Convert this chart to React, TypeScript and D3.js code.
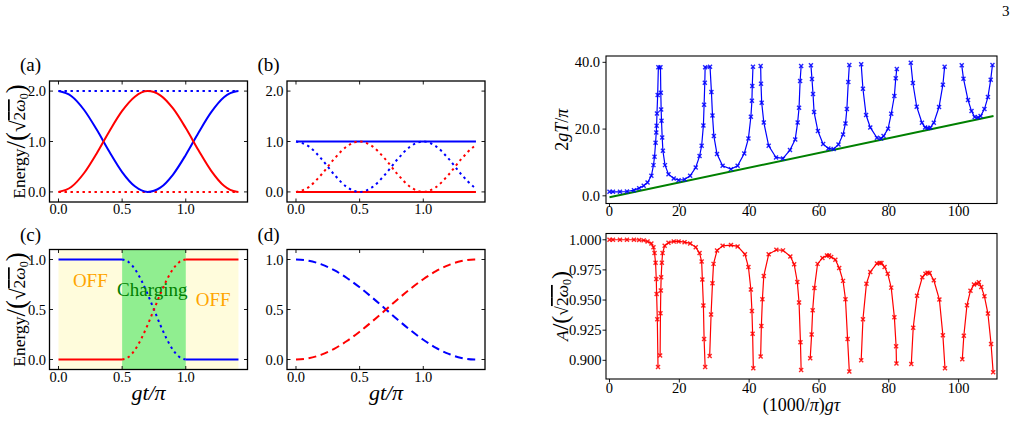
import React from 'react';
import * as d3 from 'd3';

const FONT = '"Liberation Serif", "Times New Roman", serif';

// gt/pi sample points for panels (a), (b), (d)
const tGrid = [0, 0.1, 0.2, 0.3, 0.4, 0.5, 0.6, 0.7, 0.8, 0.9, 1.0, 1.1, 1.2, 1.3, 1.4, 1.414];
const tRange: [number, number] = [0, 1.414];

// (a)
const aBlue = [2.0, 1.903, 1.63, 1.236, 0.795, 0.394, 0.111, 0.0, 0.084, 0.345, 0.734, 1.175, 1.582, 1.878, 1.997, 2.0];
const aRed = [0.0, 0.097, 0.37, 0.764, 1.205, 1.606, 1.889, 2.0, 1.916, 1.655, 1.266, 0.825, 0.418, 0.122, 0.003, 0.0];
const aBlueLevel = 2.0;
const aRedLevel = 0.0;

// (b)
const bBlueLevel = 1.0;
const bRedLevel = 0.0;
const bBlue = [1, 0.9045, 0.6545, 0.3455, 0.0955, 0, 0.0955, 0.3455, 0.6545, 0.9045, 1, 0.9045, 0.6545, 0.3455, 0.0955, 0.0709];
const bRed = [0, 0.0955, 0.3455, 0.6545, 0.9045, 1, 0.9045, 0.6545, 0.3455, 0.0955, 0, 0.0955, 0.3455, 0.6545, 0.9045, 0.9291];

// (c) charger switched on between 0.5 and 1.0
const cOn: [number, number] = [0.5, 1.0];
const cGrid = [0.5, 0.55, 0.6, 0.65, 0.7, 0.75, 0.8, 0.85, 0.9, 0.95, 1.0];
const cBlue = [1, 0.9755, 0.9045, 0.7939, 0.6545, 0.5, 0.3455, 0.2061, 0.0955, 0.0245, 0];
const cRed = [0, 0.0245, 0.0955, 0.2061, 0.3455, 0.5, 0.6545, 0.7939, 0.9045, 0.9755, 1];
const cBlueBefore = 1.0, cBlueAfter = 0.0;
const cRedBefore = 0.0, cRedAfter = 1.0;

// (d)
const dBlue = [1, 0.9877, 0.9515, 0.8931, 0.8152, 0.722, 0.618, 0.5079, 0.3975, 0.2922, 0.1971, 0.117, 0.0556, 0.016, 0.0002, 0];
const dRed = [0, 0.0123, 0.0485, 0.1069, 0.1848, 0.278, 0.382, 0.4921, 0.6025, 0.7078, 0.8029, 0.883, 0.9444, 0.984, 0.9998, 1];

// charging period 2gT/pi vs (1000/pi) g tau, split where it leaves the plot
const periodSegments: [number, number][][] = [
  [[0, 1.2], [1, 1.2], [3, 1.2], [5, 1.3], [7, 1.7], [8.5, 2.3], [9.8, 3.0], [10.9, 4.0], [12, 6.0], [12.6, 9.2],
   [12.9, 11.7], [13.2, 15.9], [13.4, 19.0], [13.5, 21.0], [13.6, 24.7], [13.8, 30.2], [14.0, 38.5], [14.6, 38.5],
   [14.7, 30.9], [14.8, 25.9], [14.9, 22.5], [15.1, 17.5], [15.3, 13.5], [15.9, 9.2], [16.9, 6.5], [18.4, 5.2],
   [19.8, 4.7], [21.5, 4.9], [23.1, 6.0], [24.7, 8.5], [25.8, 11.9], [26.4, 15.0], [26.9, 21.1], [27.1, 27.3],
   [27.3, 33.9], [27.4, 38.5], [28.8, 38.7], [29.2, 31.1], [29.5, 24.1], [29.9, 17.9], [30.8, 12.5], [32.4, 9.0],
   [34.8, 8.0], [36.7, 9.0], [38.6, 12.7], [39.8, 17.2], [40.5, 23.7], [40.8, 28.5], [40.9, 32.9], [41.1, 38.7]],
  [[43.3, 38.9], [43.4, 33.6], [43.6, 27.9], [44.2, 22.0], [45.6, 15.0], [47.7, 11.5], [49.7, 11.2], [51.7, 13.7],
   [53.2, 16.9], [53.9, 22.0], [54.3, 26.4], [54.6, 34.4], [54.9, 38.9]],
  [[57.7, 39.1], [58.0, 35.0], [58.3, 30.5], [58.6, 25.1], [59.7, 19.4], [61.2, 15.5], [62.7, 14.2], [64.2, 14.0],
   [65.6, 15.4], [66.9, 18.4], [67.6, 21.7], [68.0, 26.0], [68.4, 34.1], [68.7, 39.2]],
  [[72.1, 39.4], [72.6, 32.1], [73.5, 24.2], [74.7, 20.5], [76.6, 17.4], [77.8, 17.2], [78.5, 17.9], [79.8, 20.1],
   [80.7, 24.6], [81.6, 29.9], [82.0, 35.2], [82.3, 38.0]],
  [[86.3, 39.9], [86.9, 33.8], [88.0, 26.7], [89.5, 21.9], [90.4, 20.5], [91.2, 20.3], [91.9, 20.4], [92.9, 21.9],
   [94.4, 26.6], [95.5, 33.3], [96.0, 38.7]],
  [[100.9, 39.1], [101.4, 35.1], [102.7, 28.7], [103.7, 25.4], [104.6, 23.6], [105.6, 23.5], [106.3, 23.9],
   [107.4, 26.0], [108.4, 29.6], [109.2, 34.8], [109.7, 39.2]],
];
const boundLine: [number, number][] = [[0, -0.4], [110, 23.9]];

// amplitude A/(sqrt2 w0)
const ampSegments: [number, number][][] = [
  [[0, 1.0], [1, 1.0], [3, 1.0], [5, 1.0], [7, 1.0], [8.5, 0.9998], [9.8, 0.9995], [10.9, 0.9986], [12, 0.997],
   [12.6, 0.9937], [12.9, 0.989], [13.2, 0.981], [13.4, 0.9675], [13.5, 0.955], [13.7, 0.934], [13.9, 0.8945]],
  [[14.5, 0.904], [14.6, 0.939], [14.7, 0.958], [14.8, 0.969], [15.0, 0.981], [15.2, 0.989], [15.8, 0.995],
   [16.9, 0.9975], [18.4, 0.9986], [19.8, 0.9986], [21.5, 0.998], [23.1, 0.997], [24.7, 0.9937], [25.8, 0.989],
   [26.4, 0.982], [26.6, 0.967], [26.9, 0.9455], [27.1, 0.9176], [27.4, 0.8945]],
  [[28.7, 0.9036], [29.1, 0.938], [29.5, 0.964], [29.8, 0.98], [30.8, 0.991], [32.4, 0.995], [34.8, 0.9956],
   [36.7, 0.9945], [38.8, 0.988], [39.8, 0.9774], [40.5, 0.9587], [40.8, 0.941], [41.0, 0.922], [41.2, 0.8934]],
  [[43.3, 0.9031], [43.5, 0.9284], [43.8, 0.9507], [44.2, 0.97], [45.6, 0.9879], [47.8, 0.9917], [49.7, 0.9912],
   [51.8, 0.9862], [52.9, 0.9796], [53.8, 0.965], [54.3, 0.948], [54.7, 0.915], [54.9, 0.892]],
  [[57.5, 0.9017], [57.9, 0.9215], [58.2, 0.9416], [58.7, 0.96], [59.6, 0.98], [61.0, 0.9849], [62.3, 0.987],
   [62.9, 0.987], [63.5, 0.9857], [64.7, 0.9835], [65.8, 0.9766], [66.9, 0.9659], [67.6, 0.9507], [68.2, 0.9176],
   [68.7, 0.8907]],
  [[72.1, 0.9], [72.6, 0.934], [73.6, 0.9636], [74.7, 0.9733], [76.6, 0.9804], [77.4, 0.9807], [77.9, 0.9807],
   [78.8, 0.9774], [79.7, 0.9719], [80.7, 0.9603], [81.6, 0.9358], [82.1, 0.9116], [82.2, 0.8973]],
  [[86.45, 0.8969], [87.0, 0.927], [88.1, 0.9535], [89.6, 0.9689], [90.5, 0.9719], [91.1, 0.9727], [91.7, 0.9725],
   [92.9, 0.9664], [94.5, 0.9504], [95.5, 0.9207], [96.1, 0.8934]],
  [[101.06, 0.9008], [101.5, 0.9204], [102.4, 0.9457], [103.4, 0.9578], [104.4, 0.9628], [105.3, 0.9636],
   [105.8, 0.9647], [106.5, 0.9609], [107.4, 0.9531], [108.4, 0.9388], [109.3, 0.9135], [109.9, 0.89]],
];

const energyTicksX = [0, 0.5, 1.0];
const energyTicksTop = [0, 1, 2];
const energyTicksBottom = [0, 0.5, 1];
const tauTicks = [0, 20, 40, 60, 80, 100];
const periodTicks = [0, 20, 40];
const ampTicks = [0.9, 0.925, 0.95, 0.975, 1.0];

const BLUE = '#0000ff';
const RED = '#ff0000';
const DOT = '2.4,3.6';
const DASH = '8,4.6';

type Scale = d3.ScaleLinear<number, number>;
type Box = { x: number; y: number; w: number; h: number };

interface PanelProps {
  box: Box;
  xDomain: [number, number];
  yDomain: [number, number];
  xTicks: number[];
  yTicks: number[];
  xFormat: (v: number) => string;
  yFormat: (v: number) => string;
  inward: boolean;
  xGap: number;
  yGap: number;
  frame: number;
  children: (x: Scale, y: Scale) => React.ReactNode;
}

function Panel(p: PanelProps) {
  const { box } = p;
  const x = d3.scaleLinear().domain(p.xDomain).range([box.x, box.x + box.w]);
  const y = d3.scaleLinear().domain(p.yDomain).range([box.y + box.h, box.y]);
  const t = 3.5;
  const bottom = box.y + box.h;
  const right = box.x + box.w;
  return (
    <g>
      {p.children(x, y)}
      <rect x={box.x} y={box.y} width={box.w} height={box.h} fill="none" stroke="#000" strokeWidth={p.frame} />
      {p.xTicks.map(v => (
        <g key={'x' + v}>
          <line x1={x(v)} x2={x(v)} y1={bottom} y2={p.inward ? bottom - t : bottom + t} stroke="#000" strokeWidth={0.9} />
          {p.inward && <line x1={x(v)} x2={x(v)} y1={box.y} y2={box.y + t} stroke="#000" strokeWidth={0.9} />}
          <text x={x(v)} y={bottom + p.xGap} textAnchor="middle" fontSize={14.5}>{p.xFormat(v)}</text>
        </g>
      ))}
      {p.yTicks.map(v => (
        <g key={'y' + v}>
          <line x1={box.x} x2={p.inward ? box.x + t : box.x - t} y1={y(v)} y2={y(v)} stroke="#000" strokeWidth={0.9} />
          {p.inward && <line x1={right} x2={right - t} y1={y(v)} y2={y(v)} stroke="#000" strokeWidth={0.9} />}
          <text x={box.x - p.yGap} y={y(v)} dy="0.35em" textAnchor="end" fontSize={14.5}>{p.yFormat(v)}</text>
        </g>
      ))}
    </g>
  );
}

const curve = (x: Scale, y: Scale, xs: number[], ys: number[]) =>
  d3.line<number>().x((_, i) => x(xs[i])).y((_, i) => y(ys[i])).curve(d3.curveMonotoneX)(ys.map((_, i) => i)) || '';

const flat = (x: Scale, y: Scale, xs: [number, number], v: number) =>
  d3.line<number>().x(d => x(d)).y(() => y(v))(xs) || '';

const pts = (x: Scale, y: Scale, d: [number, number][]) =>
  d3.line<[number, number]>().x(q => x(q[0])).y(q => y(q[1]))(d) || '';

function EnergyLabel({ x, y }: { x: number; y: number }) {
  return (
    <text transform={`translate(${x},${y}) rotate(-90)`} textAnchor="middle" fontSize={17.5}>
      Energy<tspan fontSize={27}>/(</tspan><tspan fontSize={21}>√</tspan>
      <tspan textDecoration="overline">2<tspan fontStyle="italic">ω</tspan></tspan>
      <tspan fontSize={12} dy={3}>0</tspan><tspan fontSize={27} dy={-3}>)</tspan>
    </text>
  );
}

function Crosses({ x, y, d, color }: { x: Scale; y: Scale; d: [number, number][]; color: string }) {
  return (
    <g stroke={color} strokeWidth={1.4} strokeOpacity={0.85}>
      {d.map((q, i) => (
        <path key={i} d="M-2,-2L2,2M-2,2L2,-2" transform={`translate(${x(q[0])},${y(q[1])})`} />
      ))}
    </g>
  );
}

const f1 = (v: number) => v.toFixed(1);
const f3 = (v: number) => v.toFixed(3);
const f0 = (v: number) => String(v);

export default function App() {
  const tDom: [number, number] = [-0.0707, 1.485];
  const boxA = { x: 49.5, y: 81, w: 198, h: 121 };
  const boxB = { x: 287, y: 81, w: 198, h: 121 };
  const boxC = { x: 49.5, y: 249.5, w: 198, h: 120 };
  const boxD = { x: 287, y: 249.5, w: 198, h: 120 };
  const boxT = { x: 606, y: 56, w: 391, h: 147.5 };
  const boxL = { x: 606, y: 233.5, w: 391, h: 145.5 };

  return (
    <svg width={1023} height={421} style={{ position: 'absolute', left: 0, top: 0, background: '#fff', fontFamily: FONT }}>
      <text x={1002} y={16} fontSize={15}>3</text>

      <text x={20} y={71} fontSize={19}>(a)</text>
      <text x={257.5} y={71} fontSize={19}>(b)</text>
      <text x={20} y={241} fontSize={19}>(c)</text>
      <text x={257.5} y={241} fontSize={19}>(d)</text>

      <Panel box={boxA} xDomain={tDom} yDomain={[-0.2, 2.2]} xTicks={energyTicksX} yTicks={energyTicksTop}
        xFormat={f1} yFormat={f1} inward xGap={12} yGap={3.5} frame={1.3}>
        {(x, y) => (
          <g fill="none" strokeWidth={2}>
            <path d={flat(x, y, tRange, aBlueLevel)} stroke={BLUE} strokeDasharray={DOT} />
            <path d={flat(x, y, tRange, aRedLevel)} stroke={RED} strokeDasharray={DOT} />
            <path d={curve(x, y, tGrid, aBlue)} stroke={BLUE} />
            <path d={curve(x, y, tGrid, aRed)} stroke={RED} />
          </g>
        )}
      </Panel>

      <Panel box={boxB} xDomain={tDom} yDomain={[-0.2, 2.2]} xTicks={energyTicksX} yTicks={energyTicksTop}
        xFormat={f1} yFormat={f1} inward xGap={12} yGap={3.5} frame={1.3}>
        {(x, y) => (
          <g fill="none" strokeWidth={2}>
            <path d={flat(x, y, tRange, bBlueLevel)} stroke={BLUE} />
            <path d={flat(x, y, tRange, bRedLevel)} stroke={RED} />
            <path d={curve(x, y, tGrid, bBlue)} stroke={BLUE} strokeDasharray={DOT} />
            <path d={curve(x, y, tGrid, bRed)} stroke={RED} strokeDasharray={DOT} />
          </g>
        )}
      </Panel>

      <Panel box={boxC} xDomain={tDom} yDomain={[-0.1, 1.1]} xTicks={energyTicksX} yTicks={energyTicksBottom}
        xFormat={f1} yFormat={f1} inward xGap={12} yGap={3.5} frame={1.3}>
        {(x, y) => (
          <g>
            <rect x={x(tRange[0])} y={y(1.1)} width={x(tRange[1]) - x(tRange[0])} height={y(-0.1) - y(1.1)} fill="#fffcdc" />
            <rect x={x(cOn[0])} y={y(1.1)} width={x(cOn[1]) - x(cOn[0])} height={y(-0.1) - y(1.1)} fill="#90ee90" />
            <g fill="none" strokeWidth={2}>
              <path d={flat(x, y, [tRange[0], cOn[0]], cBlueBefore)} stroke={BLUE} />
              <path d={flat(x, y, [cOn[1], tRange[1]], cBlueAfter)} stroke={BLUE} />
              <path d={flat(x, y, [tRange[0], cOn[0]], cRedBefore)} stroke={RED} />
              <path d={flat(x, y, [cOn[1], tRange[1]], cRedAfter)} stroke={RED} />
              <path d={curve(x, y, cGrid, cBlue)} stroke={BLUE} strokeDasharray={DOT} />
              <path d={curve(x, y, cGrid, cRed)} stroke={RED} strokeDasharray={DOT} />
            </g>
            <text x={x(0.25)} y={y(0.79)} dy="0.35em" textAnchor="middle" fontSize={19} fill="#ffa500">OFF</text>
            <text x={x(0.737)} y={y(0.7)} dy="0.35em" textAnchor="middle" fontSize={19} fill="#008000">Charging</text>
            <text x={x(1.215)} y={y(0.6)} dy="0.35em" textAnchor="middle" fontSize={19} fill="#ffa500">OFF</text>
          </g>
        )}
      </Panel>

      <Panel box={boxD} xDomain={tDom} yDomain={[-0.1, 1.1]} xTicks={energyTicksX} yTicks={energyTicksBottom}
        xFormat={f1} yFormat={f1} inward xGap={12} yGap={3.5} frame={1.3}>
        {(x, y) => (
          <g fill="none" strokeWidth={2}>
            <path d={curve(x, y, tGrid, dBlue)} stroke={BLUE} strokeDasharray={DASH} />
            <path d={curve(x, y, tGrid, dRed)} stroke={RED} strokeDasharray={DASH} />
          </g>
        )}
      </Panel>

      <EnergyLabel x={25} y={141.5} />
      <EnergyLabel x={25} y={309.5} />

      <text x={boxC.x + boxC.w / 2} y={400} textAnchor="middle" fontSize={22} fontStyle="italic">gt/π</text>
      <text x={boxD.x + boxD.w / 2} y={400} textAnchor="middle" fontSize={22} fontStyle="italic">gt/π</text>

      <Panel box={boxT} xDomain={[-1, 111]} yDomain={[-2.3, 41.9]} xTicks={tauTicks} yTicks={periodTicks}
        xFormat={f0} yFormat={f1} inward={false} xGap={12.5} yGap={6} frame={1.1}>
        {(x, y) => (
          <g>
            <path d={pts(x, y, boundLine)} fill="none" stroke="#008000" strokeWidth={2} />
            {periodSegments.map((s, i) => (
              <g key={i}>
                <path d={pts(x, y, s)} fill="none" stroke={BLUE} strokeWidth={1.2} />
                <Crosses x={x} y={y} d={s} color={BLUE} />
              </g>
            ))}
          </g>
        )}
      </Panel>

      <Panel box={boxL} xDomain={[-1, 111]} yDomain={[0.8845, 1.0052]} xTicks={tauTicks} yTicks={ampTicks}
        xFormat={f0} yFormat={f3} inward={false} xGap={14} yGap={4.5} frame={1.1}>
        {(x, y) => (
          <g>
            {ampSegments.map((s, i) => (
              <g key={i}>
                <path d={pts(x, y, s)} fill="none" stroke={RED} strokeWidth={1.2} />
                <Crosses x={x} y={y} d={s} color={RED} />
              </g>
            ))}
          </g>
        )}
      </Panel>

      <text transform="translate(568,129.7) rotate(-90)" textAnchor="middle" fontSize={18}>
        2<tspan fontStyle="italic">gT</tspan>/<tspan fontStyle="italic">π</tspan>
      </text>
      <text transform="translate(568,306) rotate(-90)" textAnchor="middle" fontSize={17.5}>
        <tspan fontStyle="italic">A</tspan><tspan fontSize={24}>/(</tspan>√
        <tspan textDecoration="overline">2<tspan fontStyle="italic">ω</tspan></tspan>
        <tspan fontSize={12} dy={3}>0</tspan><tspan fontSize={24} dy={-3}>)</tspan>
      </text>
      <text x={boxL.x + boxL.w / 2} y={411} textAnchor="middle" fontSize={18}>
        (1000/<tspan fontStyle="italic">π</tspan>)<tspan fontStyle="italic">gτ</tspan>
      </text>
    </svg>
  );
}
